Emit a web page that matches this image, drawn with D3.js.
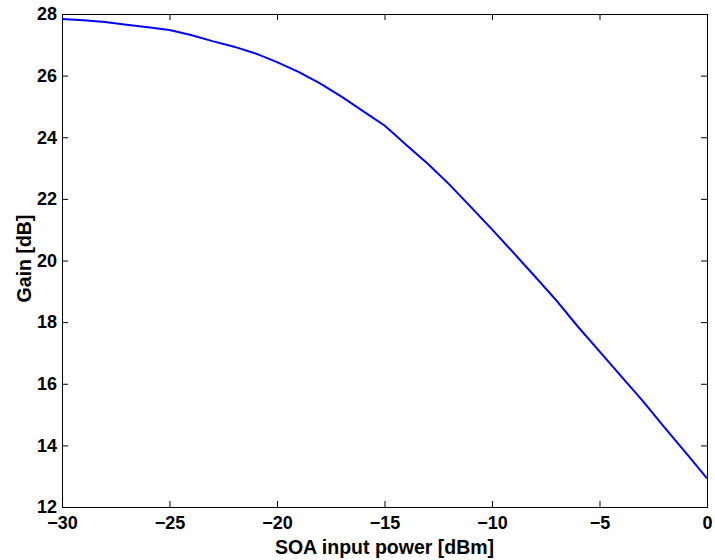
<!DOCTYPE html>
<html>
<head>
<meta charset="utf-8">
<script src="https://cdn.jsdelivr.net/npm/d3@7"></script>
<style>
  body { margin: 0; background: #fff; }
  .axis text { font-family: "Liberation Sans", Arial, sans-serif; font-weight: bold; font-size: 18px; fill: #000; }
  .axis path, .axis line { stroke: #000; }
  .label { font-family: "Liberation Sans", Arial, sans-serif; font-weight: bold; font-size: 19.5px; fill: #000; }
</style>
</head>
<body>
<div class="chart"></div>
<script>
// SOA input power [dBm]
const power = [-30, -29, -28, -27, -26, -25, -24, -23, -22, -21, -20, -19, -18, -17, -16, -15, -14.5,
               -14, -13, -12, -11, -10, -9, -8, -7, -6, -5, -4, -3, -2, -1, 0];
// Gain [dB]
const gain = [27.84, 27.80, 27.74, 27.65, 27.57, 27.48, 27.32, 27.12, 26.94, 26.72, 26.44, 26.12, 25.75,
              25.32, 24.85, 24.38, 24.07, 23.76, 23.15, 22.48, 21.75, 21.01, 20.25, 19.48, 18.70, 17.85,
              17.05, 16.25, 15.45, 14.60, 13.77, 12.93];
const xTicks = [-30, -25, -20, -15, -10, -5, 0];
const yTicks = [12, 14, 16, 18, 20, 22, 24, 26, 28];

const margin = {top: 14, right: 8, bottom: 53, left: 62},
      width = 715 - margin.left - margin.right,
      height = 560 - margin.top - margin.bottom;

const svg = d3.select(".chart").append("svg")
    .attr("width", 715)
    .attr("height", 560)
  .append("g")
    .attr("transform", "translate(" + margin.left + "," + margin.top + ")");

const x = d3.scaleLinear().domain([-30, 0]).range([0, width]);
const y = d3.scaleLinear().domain([12, 28]).range([height, 0]);

// bottom and left axes with inward ticks
svg.append("g")
    .attr("class", "axis")
    .attr("transform", "translate(0," + height + ")")
    .call(d3.axisBottom(x).tickValues(xTicks).tickSize(-6).tickPadding(9).tickFormat(d3.format("d")))
    .call(g => g.select(".domain").remove());

svg.append("g")
    .attr("class", "axis")
    .call(d3.axisLeft(y).tickValues(yTicks).tickSize(-6).tickPadding(5).tickFormat(d3.format("d")))
    .call(g => g.select(".domain").remove());

// mirrored ticks on top and right
svg.append("g")
    .attr("class", "axis")
    .call(d3.axisTop(x).tickValues(xTicks).tickSize(-6).tickFormat(""))
    .call(g => g.select(".domain").remove());

svg.append("g")
    .attr("class", "axis")
    .attr("transform", "translate(" + width + ",0)")
    .call(d3.axisRight(y).tickValues(yTicks).tickSize(-6).tickFormat(""))
    .call(g => g.select(".domain").remove());

// frame
svg.append("rect")
    .attr("x", 0.5).attr("y", 0.5)
    .attr("width", width).attr("height", height)
    .attr("fill", "none")
    .attr("stroke", "#000");

const line = d3.line()
    .x((d, i) => x(power[i]))
    .y((d, i) => y(gain[i]));

svg.append("path")
    .datum(power)
    .attr("fill", "none")
    .attr("stroke", "#0000ff")
    .attr("stroke-width", 2)
    .attr("d", line);

svg.append("text")
    .attr("class", "label")
    .attr("x", width / 2)
    .attr("y", height + 47)
    .attr("text-anchor", "middle")
    .text("SOA input power [dBm]");

svg.append("text")
    .attr("class", "label")
    .attr("transform", "translate(" + (-31) + "," + (height / 2 - 2) + ") rotate(-90)")
    .attr("text-anchor", "middle")
    .text("Gain [dB]");
</script>
</body>
</html>
